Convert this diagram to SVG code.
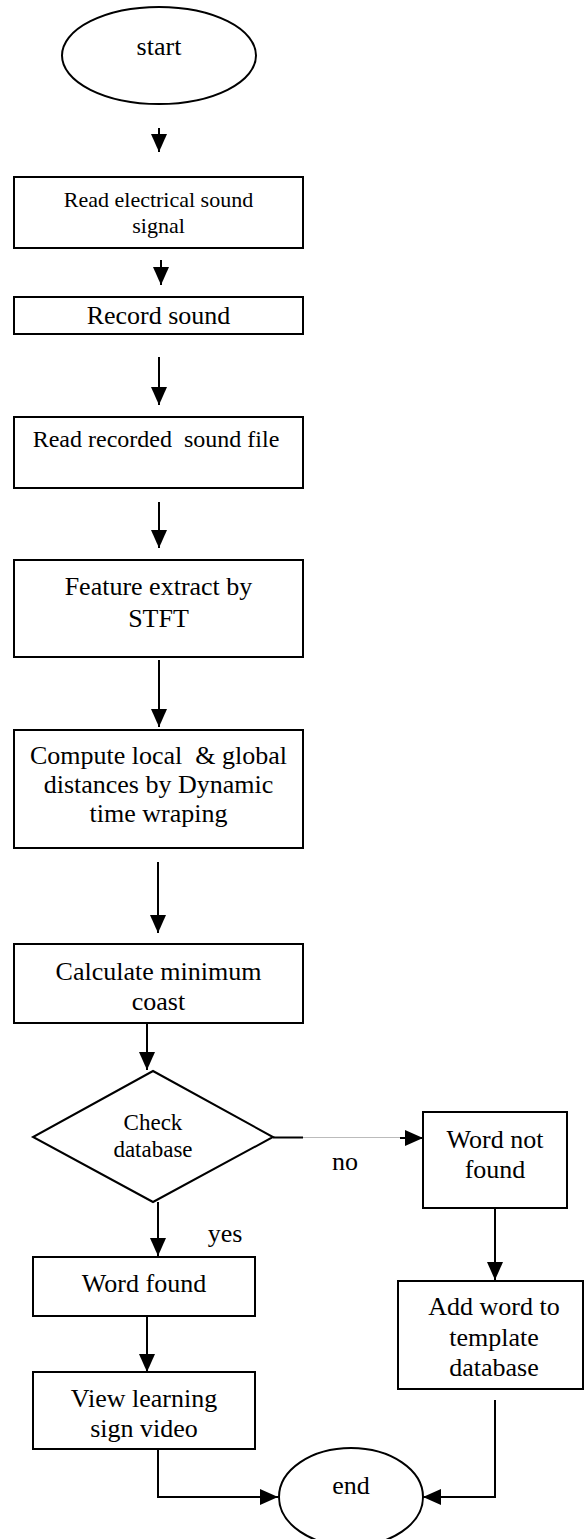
<svg xmlns="http://www.w3.org/2000/svg" width="584" height="1539" viewBox="0 0 584 1539">
<style>
.shape{fill:#fff;stroke:#000;stroke-width:2}
.t{font-family:"Liberation Serif","Times New Roman",serif;fill:#000;text-anchor:middle}
.s22{font-size:22px}
.s23{font-size:23px}
.s24{font-size:24px}
.s26{font-size:26px}
.c{fill:none;stroke:#000;stroke-width:2}
.g{fill:none;stroke:#bbb;stroke-width:1}
</style>
<defs>
<marker id="ah" viewBox="0 0 18 16" refX="18" refY="8" markerWidth="18" markerHeight="16" markerUnits="userSpaceOnUse" orient="auto">
<path d="M0,0 L18,8 L0,16 z" fill="#000"/>
</marker>
<clipPath id="viewclip"><rect x="33" y="1372" width="222" height="76"/></clipPath>
</defs>
<rect width="584" height="1539" fill="#fff"/>

<g id="start">
<ellipse class="shape" cx="159" cy="55.5" rx="97" ry="48.5"/>
<text class="t s26" x="159" y="55">start</text>
</g>
<g id="read-signal">
<rect class="shape" x="14" y="177" width="289" height="71"/>
<text class="t s22" x="158.5" y="207">Read electrical sound</text>
<text class="t s22" x="158.5" y="233">signal</text>
</g>
<g id="record">
<rect class="shape" x="14" y="297" width="289" height="37"/>
<text class="t s26" x="158.5" y="324">Record sound</text>
</g>
<g id="read-file">
<rect class="shape" x="14" y="417" width="289" height="71"/>
<text class="t s24" x="156" y="447" xml:space="preserve">Read recorded  sound file</text>
</g>
<g id="feature">
<rect class="shape" x="14" y="560" width="289" height="97"/>
<text class="t s26" x="158.5" y="595">Feature extract by</text>
<text class="t s26" x="158.5" y="627">STFT</text>
</g>
<g id="compute">
<rect class="shape" x="14" y="730" width="289" height="118"/>
<text class="t s26" x="158.5" y="764" xml:space="preserve">Compute local  &amp; global</text>
<text class="t s26" x="158.5" y="793">distances by Dynamic</text>
<text class="t s26" x="158.5" y="822">time wraping</text>
</g>
<g id="calculate">
<rect class="shape" x="14" y="944" width="289" height="79"/>
<text class="t s26" x="158.5" y="980">Calculate minimum</text>
<text class="t s26" x="158.5" y="1010">coast</text>
</g>
<g id="check">
<polygon class="shape" points="153,1071 273,1137 153,1202 33,1137"/>
<text class="t s23" x="153" y="1130">Check</text>
<text class="t s23" x="153" y="1157">database</text>
</g>
<g id="word-not-found">
<rect class="shape" x="423" y="1112" width="144" height="96"/>
<text class="t s26" x="495" y="1148">Word not</text>
<text class="t s26" x="495" y="1178">found</text>
</g>
<g id="add-word">
<rect class="shape" x="398" y="1281" width="185" height="108"/>
<text class="t s26" x="494" y="1315">Add word to</text>
<text class="t s26" x="494" y="1346">template</text>
<text class="t s26" x="494" y="1376">database</text>
</g>
<g id="word-found">
<rect class="shape" x="33" y="1257" width="222" height="59"/>
<text class="t s26" x="144" y="1292">Word found</text>
</g>
<g id="view">
<rect class="shape" x="33" y="1372" width="222" height="77"/>
<g clip-path="url(#viewclip)">
<text class="t s26" x="144" y="1407">View learning</text>
<text class="t s26" x="144" y="1437">sign video</text>
</g>
</g>
<g id="end">
<ellipse class="shape" cx="351" cy="1497" rx="72" ry="49"/>
<text class="t s26" x="351" y="1494">end</text>
</g>

<g id="connectors">
<line class="c" x1="159" y1="128" x2="159" y2="152" marker-end="url(#ah)"/>
<line class="c" x1="161" y1="260" x2="161" y2="285" marker-end="url(#ah)"/>
<line class="c" x1="159" y1="357" x2="159" y2="405" marker-end="url(#ah)"/>
<line class="c" x1="159" y1="502" x2="159" y2="548" marker-end="url(#ah)"/>
<line class="c" x1="159" y1="660" x2="159" y2="727" marker-end="url(#ah)"/>
<line class="c" x1="158" y1="862" x2="158" y2="933" marker-end="url(#ah)"/>
<line class="c" x1="147" y1="1023" x2="147" y2="1070" marker-end="url(#ah)"/>
<line class="c" x1="273" y1="1137.5" x2="303" y2="1137.5"/>
<line class="g" x1="303" y1="1137.5" x2="400" y2="1137.5"/>
<line class="c" x1="400" y1="1138" x2="423" y2="1138" marker-end="url(#ah)"/>
<text class="t s26" x="345" y="1170">no</text>
<line class="c" x1="158" y1="1202" x2="158" y2="1256" marker-end="url(#ah)"/>
<text class="t s26" x="225" y="1242">yes</text>
<line class="c" x1="147" y1="1316" x2="147" y2="1372" marker-end="url(#ah)"/>
<polyline class="c" points="158,1449 158,1497 278,1497" marker-end="url(#ah)"/>
<line class="c" x1="495" y1="1208" x2="495" y2="1280" marker-end="url(#ah)"/>
<polyline class="c" points="495,1400 495,1497 423,1497" marker-end="url(#ah)"/>
</g>
</svg>
